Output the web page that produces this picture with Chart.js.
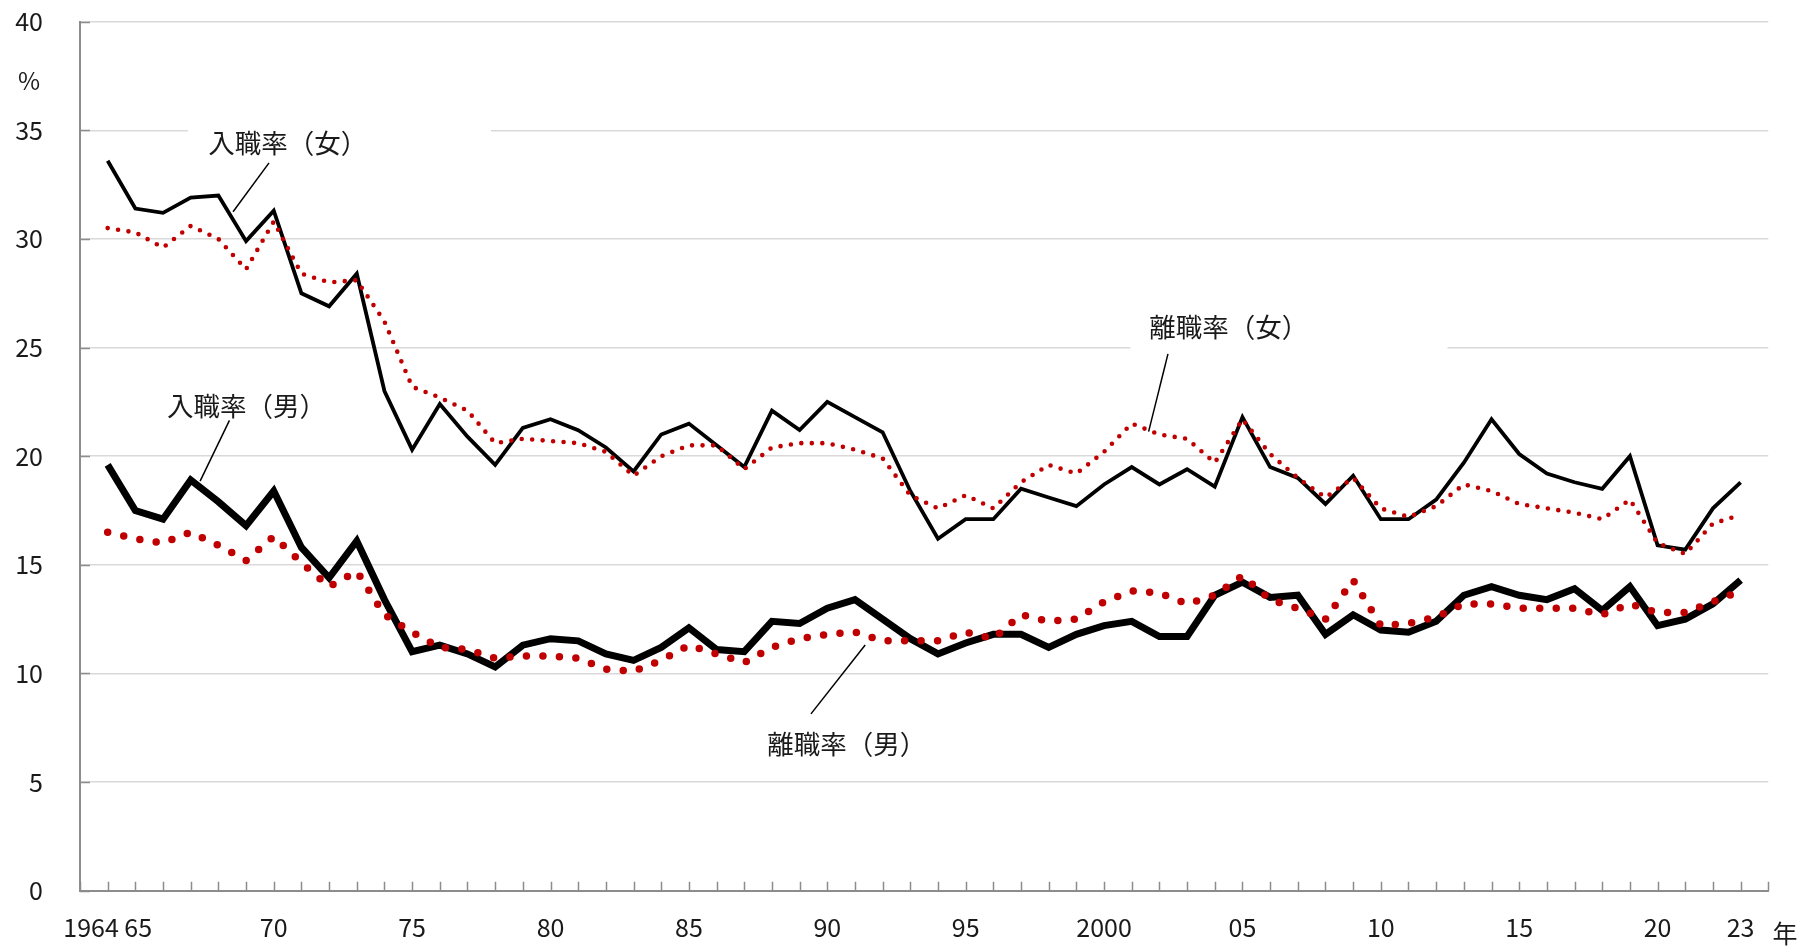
<!DOCTYPE html>
<html><head><meta charset="utf-8">
<script src="https://cdn.jsdelivr.net/npm/chart.js@4"></script>
<style>html,body{margin:0;padding:0;background:#fff;}canvas{display:block;}</style>
</head><body>
<canvas id="c" width="1809" height="946"></canvas>
<script>
const years = [1964,1965,1966,1967,1968,1969,1970,1971,1972,1973,
  1974,1975,1976,1977,1978,1979,1980,1981,1982,1983,
  1984,1985,1986,1987,1988,1989,1990,1991,1992,1993,
  1994,1995,1996,1997,1998,1999,2000,2001,2002,2003,
  2004,2005,2006,2007,2008,2009,2010,2011,2012,2013,
  2014,2015,2016,2017,2018,2019,2020,2021,2022,2023];

const hireFemale = [33.6,31.4,31.2,31.9,32.0,29.9,31.3,27.5,26.9,28.4,
  23.0,20.3,22.4,20.9,19.6,21.3,21.7,21.2,20.4,19.3,
  21.0,21.5,20.5,19.5,22.1,21.2,22.5,21.8,21.1,18.4,
  16.2,17.1,17.1,18.5,18.1,17.7,18.7,19.5,18.7,19.4,
  18.6,21.8,19.5,19.0,17.8,19.1,17.1,17.1,18.0,19.7,
  21.7,20.1,19.2,18.8,18.5,20.0,15.9,15.7,17.6,18.8];

const sepFemale = [30.5,30.3,29.6,30.6,30.0,28.6,30.8,28.4,28.0,28.1,
  26.2,23.2,22.7,22.1,20.6,20.8,20.7,20.6,20.2,19.1,
  20.0,20.5,20.5,19.4,20.4,20.6,20.6,20.3,19.9,18.2,
  17.6,18.2,17.6,18.8,19.6,19.2,20.2,21.5,21.0,20.8,
  19.7,21.7,20.1,19.0,18.1,19.0,17.6,17.2,17.7,18.7,
  18.4,17.8,17.6,17.4,17.1,18.0,16.0,15.5,16.9,17.3];

const hireMale = [19.6,17.5,17.1,18.9,17.9,16.8,18.4,15.8,14.4,16.1,
  13.4,11.0,11.3,10.9,10.3,11.3,11.6,11.5,10.9,10.6,
  11.2,12.1,11.1,11.0,12.4,12.3,13.0,13.4,12.5,11.6,
  10.9,11.4,11.8,11.8,11.2,11.8,12.2,12.4,11.7,11.7,
  13.6,14.2,13.5,13.6,11.8,12.7,12.0,11.9,12.4,13.6,
  14.0,13.6,13.4,13.9,12.9,14.0,12.2,12.5,13.2,14.3];

const sepMale = [16.5,16.2,16.0,16.5,15.9,15.2,16.3,15.1,14.0,14.7,
  12.7,11.9,11.2,11.1,10.7,10.8,10.8,10.7,10.2,10.1,
  10.6,11.3,10.9,10.5,11.2,11.6,11.8,11.9,11.5,11.5,
  11.5,11.9,11.6,12.7,12.4,12.5,13.3,13.8,13.7,13.2,
  13.6,14.5,13.4,13.0,12.5,14.3,12.2,12.3,12.6,13.2,
  13.2,13.0,13.0,13.0,12.7,13.2,12.8,12.8,13.3,13.8];

const xTickYears = [1964,1970,1975,1980,1985,1990,1995,2000,2005,2010,2015,2020,2023];
const xTickText  = ['1964 65','70','75','80','85','90','95','2000','05','10','15','20','23'];
const yTicks = [0,5,10,15,20,25,30,35,40];

const FONT = '"Noto Sans CJK JP", "Noto Sans", sans-serif';
const RED = '#c00000';

const pts = arr => years.map((y, i) => ({x: y, y: arr[i]}));

// annotation labels in data coordinates (year, %)
const notes = [
  {text:'入職率（女）', at:[1967.63,34.43], box:[1966.9,35.5,1977.85,33.35], lead:[1969.83,33.50,1968.53,31.25]},
  {text:'入職率（男）', at:[1966.14,22.32], box:null, lead:[1968.40,21.65,1967.34,18.85]},
  {text:'離職率（女）', at:[2001.63,25.95], box:[2000.95,27.0,2012.41,24.8], lead:[2002.31,24.71,2001.61,21.13]},
  {text:'離職率（男）', at:[1987.83,6.75], box:null, lead:[1991.37,11.31,1989.41,8.14]}
];

const decor = {
  id: 'decor',
  beforeDatasetsDraw(chart) {
    const {ctx, scales:{x, y}, chartArea:a} = chart;
    ctx.save();
    ctx.fillStyle = '#fff';
    notes.forEach(n => {
      if (!n.box) return;
      const x0 = x.getPixelForValue(n.box[0]), y0 = y.getPixelForValue(n.box[1]);
      const x1 = x.getPixelForValue(n.box[2]), y1 = y.getPixelForValue(n.box[3]);
      ctx.fillRect(x0, y0, x1 - x0, y1 - y0);
    });
    ctx.strokeStyle = '#8c8c8c';
    ctx.lineWidth = 1.5;
    ctx.beginPath();
    for (let yr = x.min; yr <= x.max; yr++) {
      const px = Math.round(x.getPixelForValue(yr)) + 0.5;
      ctx.moveTo(px, a.bottom); ctx.lineTo(px, a.bottom - 9);
    }
    yTicks.forEach(v => {
      const py = Math.round(y.getPixelForValue(v)) + 0.5;
      ctx.moveTo(a.left, py); ctx.lineTo(a.left + 10, py);
    });
    ctx.stroke();
    ctx.restore();
  },
  afterDatasetsDraw(chart) {
    const {ctx, scales:{x, y}} = chart;
    ctx.save();
    ctx.strokeStyle = '#000';
    ctx.lineWidth = 1.5;
    notes.forEach(n => {
      ctx.beginPath();
      ctx.moveTo(x.getPixelForValue(n.lead[0]), y.getPixelForValue(n.lead[1]));
      ctx.lineTo(x.getPixelForValue(n.lead[2]), y.getPixelForValue(n.lead[3]));
      ctx.stroke();
    });
    ctx.fillStyle = '#1a1a1a';
    ctx.font = '26.5px ' + FONT;
    ctx.textAlign = 'left';
    ctx.textBaseline = 'middle';
    notes.forEach(n => {
      ctx.fillText(n.text, x.getPixelForValue(n.at[0]), y.getPixelForValue(n.at[1]));
    });
    ctx.textAlign = 'center';
    ctx.font = '24px ' + FONT;
    ctx.fillText('%', 29, 81);
    ctx.font = '25px ' + FONT;
    ctx.fillText('年', 1785, 933);
    ctx.restore();
  }
};

new Chart(document.getElementById('c'), {
  type: 'line',
  data: {
    datasets: [
      {label:'入職率（女）', data: pts(hireFemale), borderColor:'#000', borderWidth:3.8, order:3},
      {label:'入職率（男）', data: pts(hireMale), borderColor:'#000', borderWidth:7, order:4},
      {label:'離職率（女）', data: pts(sepFemale), borderColor:RED, borderWidth:4.6, borderDash:[0,10.5], borderCapStyle:'round', order:2},
      {label:'離職率（男）', data: pts(sepMale), borderColor:RED, borderWidth:7.5, borderDash:[0,16.5], borderCapStyle:'round', order:1}
    ]
  },
  options: {
    responsive: false,
    animation: false,
    devicePixelRatio: 1,
    layout: {padding: {top: 21.7, right: 40.7, left: 0, bottom: 0}},
    elements: {point: {radius: 0}, line: {tension: 0, fill: false}},
    plugins: {legend: {display: false}, tooltip: {enabled: false}},
    scales: {
      x: {
        type: 'linear', min: 1963, max: 2024,
        afterFit: s => { s.height = 55.3; s.paddingLeft = 0; s.paddingRight = 0; },
        grid: {drawOnChartArea: false, drawTicks: false},
        border: {color: '#8c8c8c', width: 2},
        ticks: {
          stepSize: 1, autoSkip: false, maxRotation: 0, minRotation: 0, padding: 22,
          color: '#1a1a1a', font: {family: FONT, size: 25},
          callback: v => { const i = xTickYears.indexOf(v); return i >= 0 ? xTickText[i] : ''; }
        }
      },
      y: {
        min: 0, max: 40,
        afterFit: s => { s.width = 80; s.paddingTop = 0; s.paddingBottom = 0; },
        grid: {color: '#d9d9d9', lineWidth: 1.5, drawTicks: false},
        border: {color: '#8c8c8c', width: 2},
        ticks: {stepSize: 5, padding: 37, color: '#1a1a1a', font: {family: FONT, size: 25}}
      }
    }
  },
  plugins: [decor]
});
</script>
</body></html>
